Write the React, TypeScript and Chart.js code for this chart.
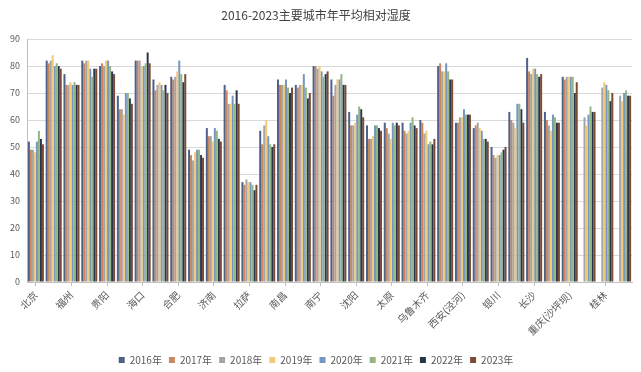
import { useEffect, useRef } from 'react';
import { Chart, registerables } from 'chart.js';

Chart.register(...registerables);

const categories = [
  '北京', '成都', '福州', '广州', '贵阳', '哈尔滨', '海口', '杭州', '合肥', '呼和浩特',
  '济南', '昆明', '拉萨', '兰州', '南昌', '南京', '南宁', '上海', '沈阳', '石家庄',
  '太原', '天津', '乌鲁木齐', '武汉', '西安(泾河)', '西宁', '银川', '长春', '长沙', '郑州',
  '重庆(沙坪坝)', '大连', '桂林', '厦门',
];

const years = ['2016年', '2017年', '2018年', '2019年', '2020年', '2021年', '2022年', '2023年'];

const y2016 = [52, 82, 77, 82, 80, 69, 82, 75, 76, 49, 57, 73, 37, 56, 75, 73, 80, 75, 63, 58, 59, 59, 60, 80, 59, 57, 50, 63, 83, 63, 76, null, null, null];
const y2017 = [49, 81, 73, 81, 81, 64, 82, 71, 75, 47, 54, 71, 36, 51, 73, 72, 80, 69, 58, 53, 57, 56, 59, 81, 59, 58, 47, 60, 78, 60, 75, null, null, null];
const y2018 = [49, 82, 73, 82, 80, 64, 82, 73, 76, 45, 54, 66, 38, 58, 73, 73, 79, 73, 58, 53, 55, 55, 55, 78, 61, 59, 46, 59, 77, 58, 76, 61, 72, 69];
const y2019 = [48, 84, 74, 82, 82, 62, 80, 74, 78, 48, 52, 66, 37, 60, 73, 73, 80, 75, 59, 54, 53, 56, 56, 78, 61, 57, 47, 57, 79, 56, 76, 58, 74, 67];
const y2020 = [52, 80, 73, 79, 82, 70, 80, 73, 82, 49, 57, 69, 37, 54, 75, 77, 78, 75, 62, 58, 59, 59, 51, 81, 64, 56, 47, 66, 79, 62, 76, 62, 73, 70];
const y2021 = [56, 81, 74, 76, 80, 70, 81, 71, 77, 49, 56, 66, 36, 51, 72, 72, 76, 77, 65, 58, 58, 61, 52, 78, 62, 53, 48, 66, 77, 61, 76, 65, 71, 71];
const y2022 = [53, 80, 73, 79, 78, 68, 85, 73, 74, 47, 53, 71, 34, 50, 70, 68, 77, 73, 64, 57, 59, 58, 51, 75, 62, 53, 49, 64, 76, 59, 70, 63, 67, 69];
const y2023 = [51, 79, 73, 79, 77, 66, 81, 70, 77, 46, 52, 66, 36, 51, 72, 70, 78, 73, 61, 56, 58, 57, 53, 75, 62, 52, 50, 59, 77, 59, 74, 63, 70, 69];

const series = [y2016, y2017, y2018, y2019, y2020, y2021, y2022, y2023];

const colors = ['#4e6189', '#c8875f', '#a5a5a5', '#f2c978', '#7596bd', '#93b583', '#2a344a', '#7b4b35'];

const yTicks = { min: 0, max: 90, step: 10 };

export default function App() {
  const ref = useRef<HTMLCanvasElement>(null);

  useEffect(() => {
    document.documentElement.style.overflow = 'hidden';
    document.body.style.margin = '0';
    document.body.style.overflow = 'hidden';
    Chart.defaults.font.family = '"Noto Sans CJK SC", "Noto Sans", sans-serif';

    const chart = new Chart(ref.current!, {
      type: 'bar',
      data: {
        labels: categories,
        datasets: series.map((d, i) => ({
          label: years[i],
          data: d,
          backgroundColor: colors[i],
          borderWidth: 0,
          categoryPercentage: 0.9,
          barPercentage: 1,
        })),
      },
      options: {
        responsive: false,
        animation: false,
        layout: { padding: { left: 0, right: 9, top: 0, bottom: 0 } },
        plugins: {
          title: {
            display: true,
            text: '2016-2023主要城市年平均相对湿度',
            color: '#404040',
            font: { size: 12, weight: 'normal' },
            padding: { top: 8, bottom: 16.6 },
          },
          legend: {
            position: 'bottom',
            labels: {
              boxWidth: 6,
              boxHeight: 6,
              padding: 7,
              color: '#595959',
              font: { size: 10 },
            },
          },
          tooltip: { enabled: false },
        },
        scales: {
          x: {
            grid: {
              drawOnChartArea: false,
              offset: false,
              tickLength: 4,
              color: (ctx: any) => (ctx.index % 2 === 0 ? '#bfbfbf' : 'rgba(0,0,0,0)'),
            },
            border: { color: '#bfbfbf' },
            ticks: {
              autoSkip: false,
              maxRotation: 45,
              minRotation: 45,
              padding: 3,
              color: '#595959',
              font: { size: 10 },
              callback: (_v: any, i: number) => (i % 2 === 0 ? categories[i] : ''),
            },
            afterFit: (s: any) => {
              s.height = 66;
            },
          },
          y: {
            min: yTicks.min,
            max: yTicks.max,
            ticks: { stepSize: yTicks.step, padding: 7, color: '#595959', font: { size: 9 } },
            grid: { color: '#d9d9d9', drawTicks: false },
            border: { color: '#bfbfbf' },
            afterFit: (s: any) => {
              s.width = 27;
            },
          },
        },
      },
    });
    return () => chart.destroy();
  }, []);

  return <canvas ref={ref} width={641} height={375} style={{ display: 'block' }} />;
}
